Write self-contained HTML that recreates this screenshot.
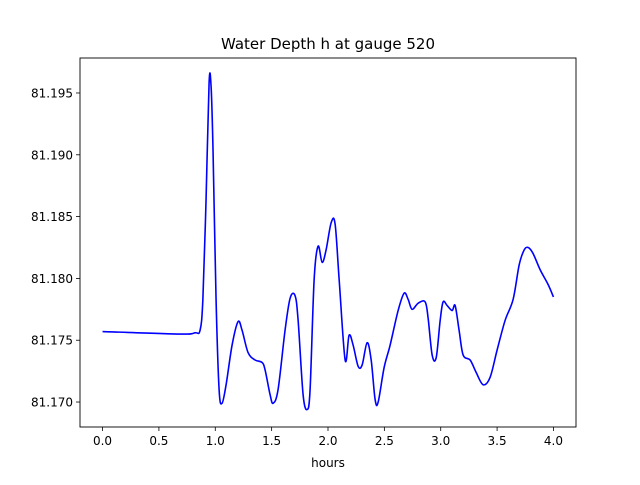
<!DOCTYPE html>
<html><head><meta charset="utf-8"><style>
body{margin:0;background:#fff;}
svg text{font-family:"DejaVu Sans","Liberation Sans",sans-serif;fill:#000;}
</style></head><body>
<svg id="chart" width="640" height="480" viewBox="0 0 640 480">
<rect width="640" height="480" fill="#fff"/>
<text x="328" y="49" font-size="15" text-anchor="middle">Water Depth h at gauge 520</text>
<g id="ticks"></g>
<path id="line" fill="none" stroke="#0000ff" stroke-width="1.6"/>
<rect x="80" y="58" width="496" height="369" fill="none" stroke="#000" stroke-width="0.9"/>
<text x="328" y="467" font-size="12" text-anchor="middle">hours</text>
</svg>
<script>
const hours=[0.00,0.69,0.82,0.865,0.89,0.918,0.945,0.963,0.98,1.007,1.034,1.06,1.096,1.149,1.202,1.238,1.291,1.353,1.415,1.442,1.486,1.513,1.557,1.619,1.664,1.708,1.735,1.779,1.815,1.841,1.877,1.912,1.948,1.983,2.028,2.063,2.099,2.152,2.187,2.223,2.267,2.303,2.347,2.383,2.418,2.445,2.498,2.551,2.622,2.675,2.711,2.746,2.8,2.862,2.888,2.924,2.96,2.995,3.021,3.057,3.101,3.128,3.163,3.199,3.261,3.314,3.376,3.438,3.5,3.571,3.642,3.696,3.74,3.776,3.82,3.882,3.953,4.0];
const depth=[81.1757,81.1755,81.1756,81.1758,81.1783,81.1863,81.1958,81.1955,81.1904,81.1783,81.1710,81.1699,81.1714,81.1746,81.1765,81.1758,81.1740,81.1734,81.1732,81.1726,81.1706,81.1699,81.1710,81.1758,81.1784,81.1786,81.1766,81.1706,81.1694,81.1710,81.1799,81.1826,81.1813,81.1823,81.1845,81.1844,81.1799,81.1734,81.1754,81.1746,81.1729,81.1730,81.1748,81.1734,81.1702,81.1700,81.1728,81.1746,81.1774,81.1788,81.1783,81.1775,81.1780,81.1781,81.1768,81.1738,81.1736,81.1766,81.1781,81.1778,81.1774,81.1778,81.1758,81.1738,81.1734,81.1724,81.1714,81.1720,81.1742,81.1766,81.1783,81.1811,81.1823,81.1825,81.1820,81.1807,81.1795,81.1785];
const xTicks=[0,0.5,1,1.5,2,2.5,3,3.5,4];
const yTicks=[81.170,81.175,81.180,81.185,81.190,81.195];
const L=80,R=576,T=58,B=427,x0=-0.2,x1=4.2,y0=81.16798,y1=81.19783;
const sx=v=>L+(v-x0)/(x1-x0)*(R-L);
const sy=v=>B-(v-y0)/(y1-y0)*(B-T);
const ns="http://www.w3.org/2000/svg";
const g=document.getElementById('ticks');
function mk(t,a){const e=document.createElementNS(ns,t);for(const k in a)e.setAttribute(k,a[k]);return e;}
xTicks.forEach(v=>{const x=sx(v);
const l=mk('line',{x1:x,x2:x,y1:B,y2:B+4,stroke:'#000','stroke-width':0.8});

g.appendChild(l);
const t=mk('text',{x:x,y:B+18,'font-size':12,'text-anchor':'middle'});t.textContent=v.toFixed(1);

g.appendChild(t);});
yTicks.forEach(v=>{const y=sy(v);
const l=mk('line',{x1:L-4,x2:L,y1:y,y2:y,stroke:'#000','stroke-width':0.8});

g.appendChild(l);
const t=mk('text',{x:L-7,y:y+4.5,'font-size':12,'text-anchor':'end'});t.textContent=v.toFixed(3);

g.appendChild(t);});
const P=hours.map((h,i)=>[sx(h),sy(depth[i])]);
let d='M'+P[0][0]+','+P[0][1];
for(let i=0;i<P.length-1;i++){const p0=P[Math.max(0,i-1)],p1=P[i],p2=P[i+1],p3=P[Math.min(P.length-1,i+2)];
const c1=[p1[0]+(p2[0]-p0[0])/6,p1[1]+(p2[1]-p0[1])/6],c2=[p2[0]-(p3[0]-p1[0])/6,p2[1]-(p3[1]-p1[1])/6];
d+=' C'+c1[0]+','+c1[1]+' '+c2[0]+','+c2[1]+' '+p2[0]+','+p2[1];}
document.getElementById('line').setAttribute('d',d);
</script>
</body></html>
